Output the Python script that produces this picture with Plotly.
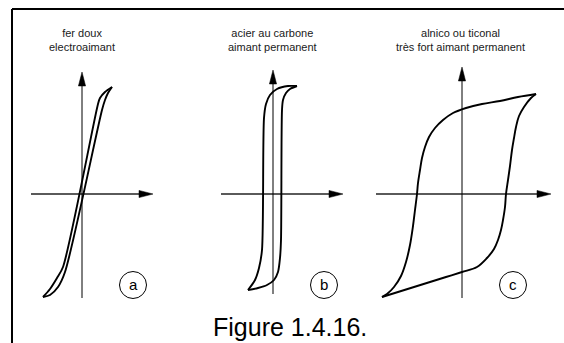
import plotly.graph_objects as go

W, H = 564, 343

# Hysteresis loops, H (field) and B (induction) relative to each panel's origin
a_desc_H = [30, 23, 18, 16, -19, -25, -32, -39]
a_desc_B = [107, 102, 96, 90, -73, -84, -95, -103]
a_asc_H = [-39, -32, -24, -17, 20, 23, 26, 30]
a_asc_B = [-103, -101, -93, -78, 84, 94, 101, 107]

b_desc_H = [24, 15, 4, -3, -7, -9, -11, -14, -18, -25]
b_desc_B = [108, 108, 105, 99, 90, 76, -56, -74, -86, -96]
b_asc_H = [-25, -15, -6, 1, 5, 7, 8, 9, 10, 13, 17, 24]
b_asc_B = [-96, -94, -91, -86, -78, -64, -46, 84, 94, 101, 105, 108]

c_desc_H = [74, 56, 38, 20, 4, -9, -19, -27, -33, -37, -40, -42, -44, -45,
            -47, -49, -52, -56, -61, -68, -75, -80]
c_desc_B = [100, 97, 93, 90, 86, 81, 74, 66, 57, 47, 36, 24, 11, 0,
            -16, -32, -51, -68, -82, -93, -100, -103]
c_asc_H = [-80, -64, -48, -32, -16, 0, 15, 25, 32, 36, 39, 41, 43, 44,
           46, 48, 50, 52, 54, 57, 62, 69, 74]
c_asc_B = [-103, -98, -93, -88, -83, -78, -73, -64, -55, -46, -36, -26, -13, 0,
           14, 28, 44, 56, 67, 78, 87, 96, 100]

titles = ["fer doux<br>electroaimant",
          "acier au carbone<br>aimant permanent",
          "alnico ou ticonal<br>très fort aimant permanent"]
letters = ["a", "b", "c"]
caption = "Figure 1.4.16."

# panel geometry in pixels: origin, box, axis extents, curve smoothing
panels = [
    dict(o=(82, 194), box=(14, 180, 55, 310), hx=(-51, 71), vy=(-104, 122),
         loops=((a_desc_H, a_desc_B), (a_asc_H, a_asc_B)), tx=82, sm=0.8),
    dict(o=(273, 194), box=(190, 360, 55, 310), hx=(-52, 70), vy=(-100, 124),
         loops=((b_desc_H, b_desc_B), (b_asc_H, b_asc_B)), tx=272, sm=0.8),
    dict(o=(462, 194), box=(366, 562, 55, 310), hx=(-86, 89), vy=(-104, 127),
         loops=((c_desc_H, c_desc_B), (c_asc_H, c_asc_B)), tx=460, sm=1.0),
]
badge = (51, -91, 13.5)
head_len, head_half = 14, 3.6

fig = go.Figure()
shapes, annotations = [], []
layout = {}

for i, p in enumerate(panels):
    n = "" if i == 0 else str(i + 1)
    xa, ya = "x" + n, "y" + n
    ox, oy = p["o"]
    x0, x1, y0, y1 = p["box"]
    layout["xaxis" + n] = dict(domain=[x0 / W, x1 / W], range=[x0 - ox, x1 - ox],
                               visible=False, fixedrange=True)
    layout["yaxis" + n] = dict(domain=[(H - y1) / H, (H - y0) / H], range=[oy - y1, oy - y0],
                               visible=False, fixedrange=True)

    # horizontal axis (H)
    hx0, hx1 = p["hx"]
    fig.add_trace(go.Scatter(x=[hx0, hx1 - head_len + 1], y=[0, 0], mode="lines",
                             line=dict(color="#5a5a5a", width=1.8),
                             xaxis=xa, yaxis=ya, hoverinfo="skip", cliponaxis=False))
    fig.add_trace(go.Scatter(x=[hx1 - head_len, hx1, hx1 - head_len, hx1 - head_len],
                             y=[head_half, 0, -head_half, head_half], mode="lines",
                             fill="toself", fillcolor="black", line=dict(color="black", width=0.5),
                             xaxis=xa, yaxis=ya, hoverinfo="skip", cliponaxis=False))
    # vertical axis (B)
    vy0, vy1 = p["vy"]
    fig.add_trace(go.Scatter(x=[0, 0], y=[vy0, vy1 - head_len + 1], mode="lines",
                             line=dict(color="black", width=1),
                             xaxis=xa, yaxis=ya, hoverinfo="skip", cliponaxis=False))
    fig.add_trace(go.Scatter(x=[-head_half, 0, head_half, -head_half],
                             y=[vy1 - head_len, vy1, vy1 - head_len, vy1 - head_len], mode="lines",
                             fill="toself", fillcolor="black", line=dict(color="black", width=0.5),
                             xaxis=xa, yaxis=ya, hoverinfo="skip", cliponaxis=False))
    # loop branches
    for hs, bs in p["loops"]:
        fig.add_trace(go.Scatter(x=hs, y=bs, mode="lines",
                                 line=dict(color="black", width=1.9, shape="spline", smoothing=p["sm"]),
                                 xaxis=xa, yaxis=ya, hoverinfo="skip", cliponaxis=False))
    # circled letter
    cx, cy, r = badge
    shapes.append(dict(type="circle", xref=xa, yref=ya, x0=cx - r, x1=cx + r, y0=cy - r, y1=cy + r,
                       line=dict(color="black", width=1)))
    annotations.append(dict(x=cx, y=cy, xref=xa, yref=ya, text=letters[i], showarrow=False,
                            font=dict(family="Liberation Sans, Arial", size=15, color="black"),
                            yshift=1))
    # title
    annotations.append(dict(x=p["tx"] / W, y=1 - 40 / H, xref="paper", yref="paper",
                            text=titles[i], showarrow=False, align="center",
                            xanchor="center", yanchor="middle",
                            font=dict(family="Liberation Sans, Arial", size=11, color="#1a1a1a")))

# frame lines along the top and left
shapes.append(dict(type="line", xref="paper", yref="paper", x0=12 / W, x1=1.01, y0=1 - 9 / H, y1=1 - 9 / H,
                   line=dict(color="black", width=2)))
shapes.append(dict(type="line", xref="paper", yref="paper", x0=12 / W, x1=12 / W, y0=1 - 9 / H, y1=-0.01,
                   line=dict(color="black", width=2)))

annotations.append(dict(x=290 / W, y=1 - 327 / H, xref="paper", yref="paper", text=caption,
                        showarrow=False, xanchor="center", yanchor="middle",
                        font=dict(family="Liberation Sans, Arial", size=25, color="black")))

fig.update_layout(width=W, height=H, autosize=False, margin=dict(l=0, r=0, t=0, b=0),
                  paper_bgcolor="white", plot_bgcolor="white", showlegend=False,
                  shapes=shapes, annotations=annotations, **layout)

fig.write_html("out.html", config={"displayModeBar": False})
